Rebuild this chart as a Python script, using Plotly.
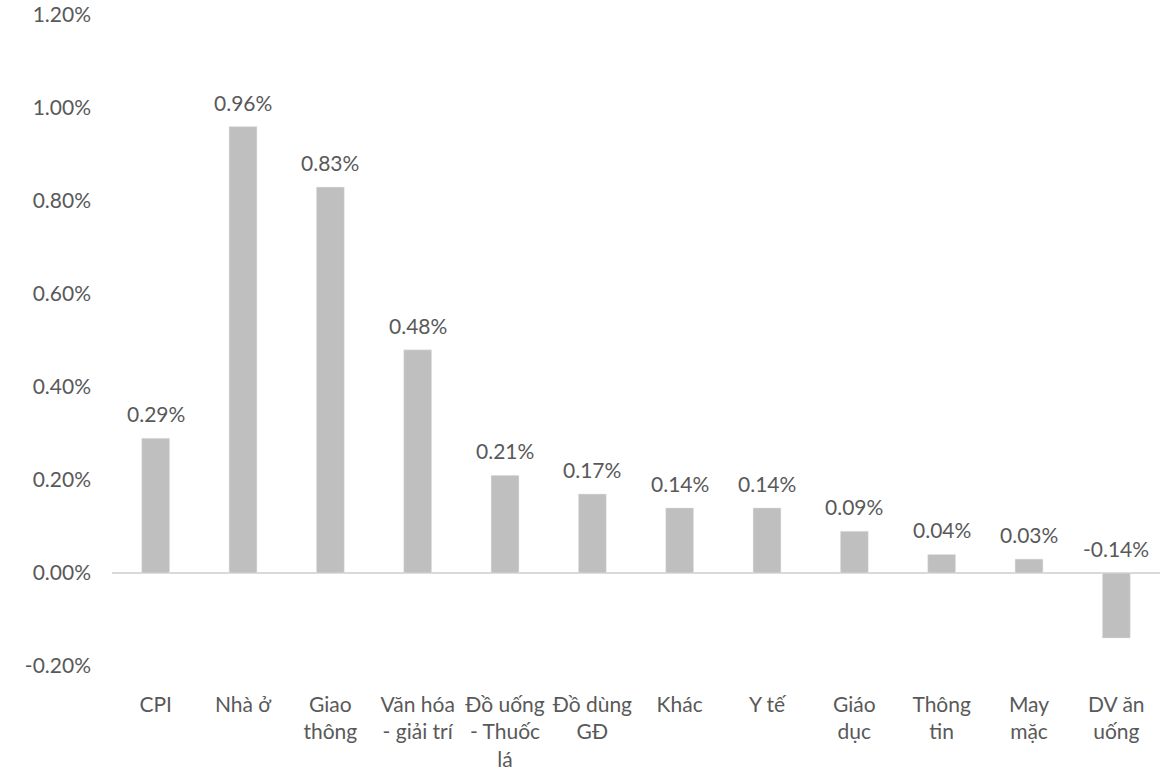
import plotly.graph_objects as go

categories = ["CPI", "Nhà ở", "Giao<br>thông", "Văn hóa<br>- giải trí", "Đồ uống<br>- Thuốc<br>lá",
              "Đồ dùng<br>GĐ", "Khác", "Y tế", "Giáo<br>dục", "Thông<br>tin", "May<br>mặc", "DV ăn<br>uống"]
values = [0.29, 0.96, 0.83, 0.48, 0.21, 0.17, 0.14, 0.14, 0.09, 0.04, 0.03, -0.14]
tick_vals = [-0.2, 0.0, 0.2, 0.4, 0.6, 0.8, 1.0, 1.2]
tick_text = ["-0.20%", "0.00%", "0.20%", "0.40%", "0.60%", "0.80%", "1.00%", "1.20%"]

FONT = "Lato"
TXT = "#595959"
FS = 21

fig = go.Figure(go.Bar(x=categories, y=values, marker_color="#BFBFBF", width=0.32,
                       hoverinfo="skip"))

for c, v in zip(categories, values):
    fig.add_annotation(x=c, y=max(v, 0), text=f"{v:.2f}%", showarrow=False,
                       yanchor="bottom", yshift=10, font=dict(family=FONT, size=FS, color=TXT))

fig.update_layout(
    width=1173, height=774,
    margin=dict(l=112, r=13, t=15, b=108),
    paper_bgcolor="white", plot_bgcolor="white",
    showlegend=False,
    font=dict(family=FONT, size=FS, color=TXT),
)
fig.update_xaxes(showgrid=False, showline=False, ticks="", tickfont=dict(size=FS, color=TXT),
                 ticklabelstandoff=24, automargin=False)
fig.update_yaxes(range=[-0.2, 1.2], tickvals=tick_vals, ticktext=tick_text, showgrid=False,
                 zeroline=True, zerolinecolor="#D9D9D9", zerolinewidth=1.5, showline=False,
                 ticklabelstandoff=20, tickfont=dict(size=FS, color=TXT), automargin=False)

fig.write_html("out.html")
